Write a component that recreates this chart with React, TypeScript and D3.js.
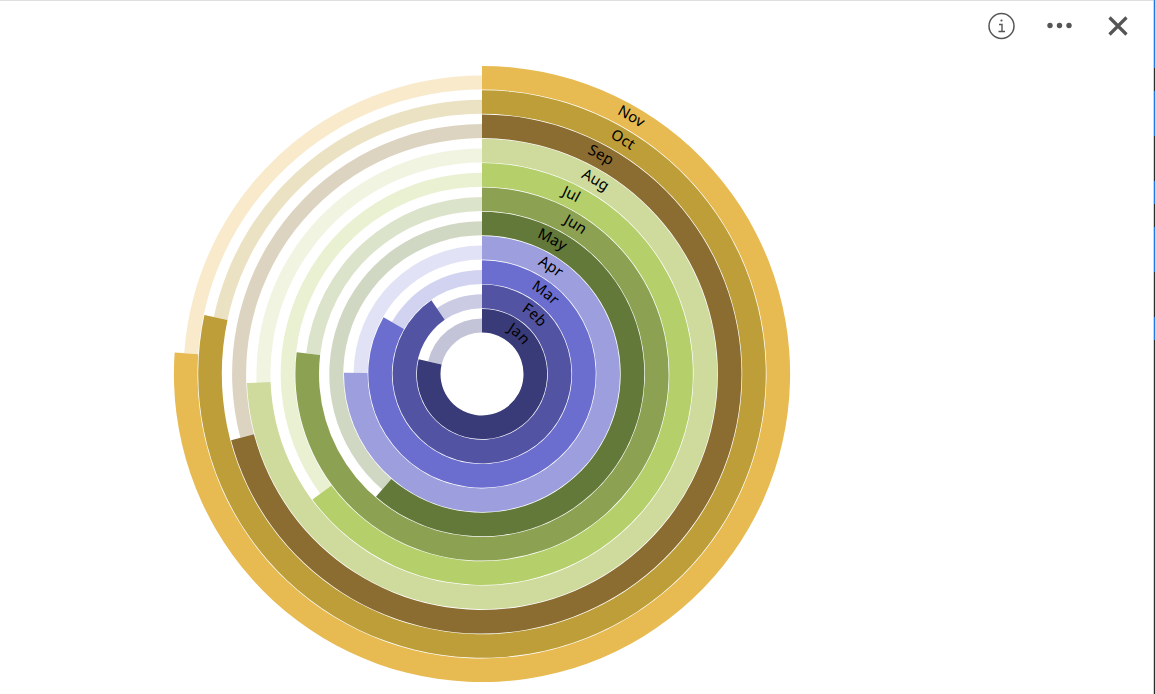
import React from "react";
import * as d3 from "d3";

const months = ["Jan", "Feb", "Mar", "Apr", "May", "Jun", "Jul", "Aug", "Sep", "Oct", "Nov"];
const sweepDegrees = [283.2, 325.5, 300, 270.5, 220.8, 276.7, 233.5, 267.8, 255.2, 282, 274];
const labelDegrees = [42.5, 41.7, 37.9, 32.6, 27.6, 32, 26.4, 30.3, 28.5, 31, 30.1];
const colors = ["#393b79", "#5254a3", "#6b6ecf", "#9c9ede", "#637939", "#8ca252", "#b5cf6b", "#cedb9c", "#8c6d31", "#bd9e39", "#e7ba52"];
const fullCircle = 360;
const edgeBlueSegments = [[0, 68], [91, 136], [181, 204], [227, 272], [317, 340]];

const W = 1155;
const H = 694;
const cx = 482;
const cy = 374;
const ringStep = 24.3;
const filledWidth = 23.6;
const trackWidth = 14;
const baselineOffset = 8.5;

export default function App() {
  const angle = d3.scaleLinear().domain([0, fullCircle]).range([0, 2 * Math.PI]);
  const radius = d3.scaleLinear().domain([0, 1]).range([41.5, 41.5 + ringStep]);
  const arc = d3.arc<any>();

  const labelPath = (r: number) => {
    const p = d3.path();
    p.arc(0, 0, r, -Math.PI / 2, 1.5 * Math.PI - 0.001);
    return p.toString();
  };

  return (
    <svg
      width={W}
      height={H}
      viewBox={`0 0 ${W} ${H}`}
      style={{ position: "absolute", left: 0, top: 0, background: "#fff", display: "block" }}
    >
      <rect x={0} y={0} width={W} height={1} fill="#dedede" />
      <rect x={W - 2} y={0} width={1} height={H} fill="#d4d4d4" />
      <rect x={W - 1} y={0} width={1} height={H} fill="#2b2b2b" />
      {edgeBlueSegments.map(([a, b]) => (
        <rect key={a} x={W - 1} y={a} width={1} height={b - a} fill="#1e7be0" />
      ))}

      <g transform={`translate(${cx},${cy})`}>
        <defs>
          {months.map((m, i) => (
            <path key={m} id={`label-${m}`} d={labelPath(radius(i) + baselineOffset)} />
          ))}
        </defs>
        {months.map((m, i) => (
          <path
            key={`track-${m}`}
            fill={colors[i]}
            fillOpacity={0.3}
            d={
              arc({
                innerRadius: radius(i),
                outerRadius: radius(i) + trackWidth,
                startAngle: angle(sweepDegrees[i]),
                endAngle: angle(fullCircle),
              }) as string
            }
          />
        ))}
        {months.map((m, i) => (
          <path
            key={`value-${m}`}
            fill={colors[i]}
            d={
              arc({
                innerRadius: radius(i),
                outerRadius: radius(i) + filledWidth,
                startAngle: angle(0),
                endAngle: angle(sweepDegrees[i]),
              }) as string
            }
          />
        ))}
        {months.map((m, i) => (
          <text
            key={`text-${m}`}
            fontFamily="'Noto Sans', 'Open Sans', sans-serif"
            fontSize={15}
            fill="#000"
            textAnchor="middle"
          >
            <textPath href={`#label-${m}`} startOffset={angle(labelDegrees[i]) * (radius(i) + baselineOffset)}>
              {m}
            </textPath>
          </text>
        ))}
      </g>

      <g stroke="#555" fill="none">
        <circle cx={1001.5} cy={26} r={12.5} strokeWidth={1.5} />
        <path d="M999 24.5h3v7M998.5 31.5h6.5" strokeWidth={1.4} />
        <circle cx={1001.5} cy={20.5} r={1.1} fill="#555" stroke="none" />
        <path d="M1109.5 17.5L1126.5 34.5M1126.5 17.5L1109.5 34.5" strokeWidth={3.2} />
      </g>
      <g fill="#555">
        <circle cx={1050} cy={25.5} r={2.7} />
        <circle cx={1059.5} cy={25.5} r={2.7} />
        <circle cx={1069} cy={25.5} r={2.7} />
      </g>
    </svg>
  );
}
